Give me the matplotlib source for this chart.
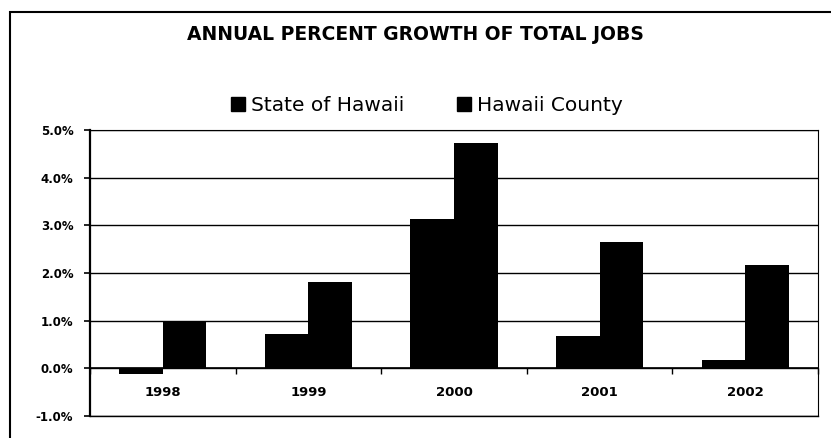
import numpy as np
import matplotlib.pyplot as plt
from matplotlib.patches import Patch, Rectangle
from matplotlib.ticker import FuncFormatter

# annual percent growth of total jobs
years = ["1998", "1999", "2000", "2001", "2002"]
state_of_hawaii = [-0.12, 0.73, 3.14, 0.67, 0.17]
hawaii_county = [1.00, 1.82, 4.72, 2.66, 2.16]
series_names = ["State of Hawaii", "Hawaii County"]

fig = plt.figure(figsize=(8.31, 4.38), dpi=100)
ax = fig.add_axes([90 / 831, 1 - 416 / 438, 728 / 831, 286 / 438])

x = np.arange(len(years))
w = 0.3
ax.bar(x - w / 2, state_of_hawaii, w, color="black", zorder=3)
ax.bar(x + w / 2, hawaii_county, w, color="black", zorder=3)

ax.set_xlim(-0.5, len(years) - 0.5)
ax.set_ylim(-1, 5)
ax.set_yticks(np.arange(-1, 6, 1))
ax.yaxis.set_major_formatter(FuncFormatter(lambda v, p: "%.1f%%" % v))
ax.grid(axis="y", color="black", linewidth=1)
ax.set_axisbelow(True)
# bottom edge of the plot area
ax.axhline(-1, color="black", linewidth=1, clip_on=False)

# x axis sits on the zero line, ticks between categories
ax.spines["bottom"].set_position(("data", 0))
ax.spines["bottom"].set_linewidth(1.2)
ax.spines["left"].set_linewidth(1.6)
ax.spines["top"].set_linewidth(0.8)
ax.spines["right"].set_linewidth(0.8)
ax.set_xticks(np.arange(-0.5, len(years) - 0.4, 1))
ax.set_xticklabels([])
ax.set_xticks(x, minor=True)
ax.set_xticklabels(years, minor=True, fontsize=9.5, fontweight="bold")
ax.tick_params(axis="x", which="major", direction="out", length=4, width=1)
ax.tick_params(axis="x", which="minor", length=0, pad=13)
ax.tick_params(axis="y", direction="out", length=4, width=1.2, labelsize=8.5, pad=8)
for t in ax.get_yticklabels():
    t.set_fontweight("bold")

fig.text(0.5, 1 - 35 / 438, "ANNUAL PERCENT GROWTH OF TOTAL JOBS",
         ha="center", va="center", fontsize=13.5, fontweight="bold")

handles = [Patch(color="black"), Patch(color="black")]
fig.legend(handles, series_names, loc="center", bbox_to_anchor=(427 / 831, 1 - 106 / 438),
           ncol=2, frameon=False, fontsize=14.5, handlelength=0.7, handleheight=0.7,
           handletextpad=0.3, columnspacing=2.6)

# chart frame
fig.patches.append(Rectangle((10 / 831, -0.1), 1.2, 1.1 - 12 / 438, transform=fig.transFigure,
                             fill=False, edgecolor="black", linewidth=1.5))

fig.savefig("out.png", dpi=100)
